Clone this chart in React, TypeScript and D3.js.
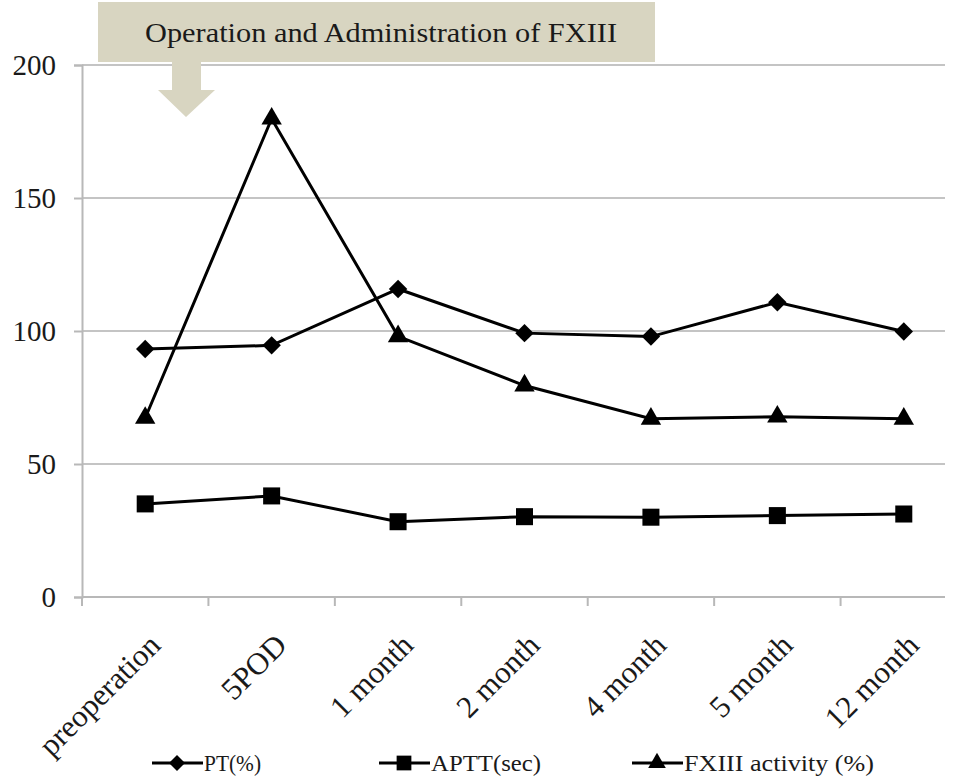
import React from "react";
import * as d3 from "d3";

const categories = ["preoperation", "5POD", "1 month", "2 month", "4 month", "5 month", "12 month"];
const ptValues = [93.2, 94.6, 115.8, 99.2, 97.9, 110.8, 99.8];
const apttValues = [35, 38, 28.3, 30.2, 30.0, 30.6, 31.2];
const fxiiiValues = [67.3, 179.8, 98.0, 79.5, 67.0, 67.8, 67.0];
const yTicks = [0, 50, 100, 150, 200];
const legendNames = ["PT(%)", "APTT(sec)", "FXIII activity (%)"];
const bannerText = "Operation and Administration of FXIII";

const width = 959;
const height = 778;
const margin = { left: 82, right: -8, top: 65, bottom: 181 };

const App = () => {
    const svgRef = React.useRef(null);

    React.useEffect(() => {
        const svgEl = d3.select(svgRef.current);
        svgEl.selectAll("*").remove();
        const font = "'Liberation Serif', 'DejaVu Serif', serif";

        const xScale = d3
            .scaleBand()
            .domain(categories)
            .range([margin.left, width - margin.right])
            .padding(0);
        const yScale = d3
            .scaleLinear()
            .domain([0, 200])
            .range([height - margin.bottom, margin.top]);
        const cx = (c) => xScale(c) + xScale.bandwidth() / 2;
        const gridRight = 945;

        // horizontal grid lines
        svgEl.append("g")
            .selectAll("line")
            .data(yTicks.filter((t) => t > 0))
            .enter()
            .append("line")
            .attr("x1", margin.left)
            .attr("x2", gridRight)
            .attr("y1", (d) => yScale(d))
            .attr("y2", (d) => yScale(d))
            .attr("stroke", "#c4c4c4")
            .attr("stroke-width", 2);

        // banner box + arrow
        svgEl.append("rect")
            .attr("x", 98)
            .attr("y", 2)
            .attr("width", 557)
            .attr("height", 60)
            .attr("fill", "#d8d5c1");
        svgEl.append("path")
            .attr("d", "M172,62 L201,62 L201,90 L215,90 L186,117 L158,90 L172,90 Z")
            .attr("fill", "#d8d5c1");
        svgEl.append("text")
            .attr("x", 145)
            .attr("y", 42)
            .attr("font-family", font)
            .attr("font-size", 27)
            .attr("textLength", 472)
            .attr("lengthAdjust", "spacingAndGlyphs")
            .attr("fill", "#1a1a1a")
            .text(bannerText);

        // y axis
        const yAxis = d3.axisLeft(yScale).tickValues(yTicks).tickSize(8).tickPadding(18);
        const yAxisGroup = svgEl.append("g")
            .attr("transform", `translate(${margin.left},0)`)
            .call(yAxis);
        yAxisGroup.select(".domain").attr("stroke", "#b8b8b8").attr("stroke-width", 2);
        yAxisGroup.selectAll("line").attr("stroke", "#b8b8b8").attr("stroke-width", 2);
        yAxisGroup.selectAll("text")
            .attr("font-family", font)
            .attr("font-size", 29)
            .attr("fill", "#1a1a1a");

        // x axis
        const x0 = yScale(0);
        const xg = svgEl.append("g");
        xg.append("line")
            .attr("x1", margin.left)
            .attr("x2", gridRight)
            .attr("y1", x0)
            .attr("y2", x0)
            .attr("stroke", "#b8b8b8")
            .attr("stroke-width", 2);
        xg.selectAll(".tick")
            .data(categories)
            .enter()
            .append("line")
            .attr("x1", (d) => xScale(d))
            .attr("x2", (d) => xScale(d))
            .attr("y1", x0)
            .attr("y2", x0 + 9)
            .attr("stroke", "#b8b8b8")
            .attr("stroke-width", 2);
        xg.selectAll(".lbl")
            .data(categories)
            .enter()
            .append("text")
            .attr("transform", (d) => `translate(${cx(d) + 17},${x0 + 50}) rotate(-45)`)
            .attr("text-anchor", "end")
            .attr("font-family", font)
            .attr("font-size", 31)
            .attr("fill", "#1a1a1a")
            .text((d) => d);

        const diamond = {
            draw(ctx, size) {
                const r = Math.sqrt(size / 2);
                ctx.moveTo(0, -r);
                ctx.lineTo(r, 0);
                ctx.lineTo(0, r);
                ctx.lineTo(-r, 0);
                ctx.closePath();
            },
        };

        const series = [
            { name: legendNames[0], values: ptValues, symbol: diamond, size: 170, tl: 57 },
            { name: legendNames[1], values: apttValues, symbol: d3.symbolSquare, size: 290, tl: 110 },
            { name: legendNames[2], values: fxiiiValues, symbol: d3.symbolTriangle, size: 180, tl: 190 },
        ];

        const line = d3
            .line()
            .x((d, i) => cx(categories[i]))
            .y((d) => yScale(d));

        series.forEach((s) => {
            svgEl.append("path")
                .attr("fill", "none")
                .attr("stroke", "#000")
                .attr("stroke-width", 3)
                .attr("d", line(s.values));
            svgEl.append("g")
                .selectAll("path")
                .data(s.values)
                .enter()
                .append("path")
                .attr("transform", (d, i) => `translate(${cx(categories[i])},${yScale(d)})`)
                .attr("d", d3.symbol().type(s.symbol).size(s.size))
                .attr("fill", "#000");
        });

        // legend
        const legendX = [177, 404, 657];
        const ly = 763;
        series.forEach((s, i) => {
            const g = svgEl.append("g").attr("transform", `translate(${legendX[i]},${ly})`);
            g.append("line")
                .attr("x1", -25)
                .attr("x2", 26)
                .attr("stroke", "#000")
                .attr("stroke-width", 3);
            g.append("path")
                .attr("d", d3.symbol().type(s.symbol).size(s.size * 0.75))
                .attr("fill", "#000");
            g.append("text")
                .attr("x", 27)
                .attr("y", 8)
                .attr("font-family", font)
                .attr("font-size", 24)
                .attr("fill", "#1a1a1a")
                .attr("textLength", s.tl)
                .attr("lengthAdjust", "spacingAndGlyphs")
                .text(s.name);
        });
    }, []);

    return (
        <svg
            ref={svgRef}
            width={width}
            height={height}
            style={{ position: "absolute", left: 0, top: 0, background: "#fff" }}
        />
    );
};

export default App;
